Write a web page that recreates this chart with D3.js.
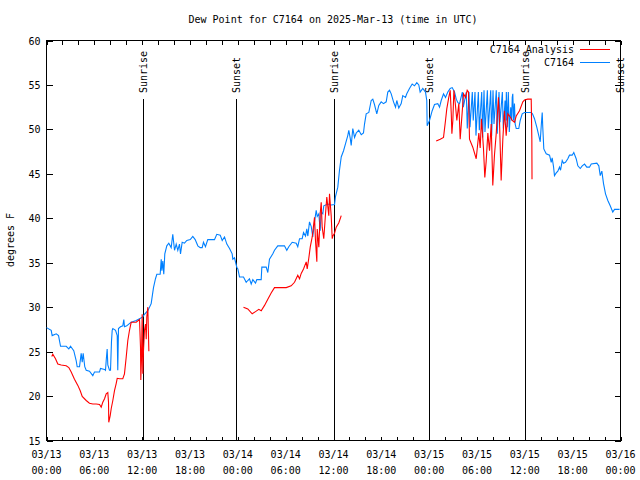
<!DOCTYPE html>
<html><head><meta charset="utf-8">
<script src="https://cdn.jsdelivr.net/npm/d3@7"></script>
<style>
body{margin:0;background:#fff;}
svg text{font-family:"DejaVu Sans Mono","Liberation Mono",monospace;font-size:10px;fill:#000;}
</style></head><body>
<svg id="chart" width="640" height="480"></svg>
<script>
// ---------- data ----------
const chartTitle = "Dew Point for C7164 on 2025-Mar-13 (time in UTC)";
const yAxisLabel = "degrees F";
const startUTC = Date.UTC(2025, 2, 13, 0, 0);
const endUTC = Date.UTC(2025, 2, 16, 0, 0);
const yTicks = [15, 20, 25, 30, 35, 40, 45, 50, 55, 60];
const xLabelHours = [0, 6, 12, 18, 24, 30, 36, 42, 48, 54, 60, 66, 72];
const seriesNames = ["C7164 Analysis", "C7164"];
const seriesColors = ["#ff0000", "#0080ff"];
const sunLabels = ["Sunrise", "Sunset", "Sunrise", "Sunset", "Sunrise", "Sunset"];
const sunHours = [12.10, 23.83, 36.12, 47.92, 60.08, 71.95];

// observed station (hours after 03/13 00:00 UTC, dew point F)
const stationSeries = [
[0,27.7],[0.59,27.4],[0.71,26.8],[1.22,27.0],[1.51,26.8],[1.76,25.6],[2.47,25.6],[2.80,25.3],[3.01,25.6],[3.42,25.1],
[3.72,24.0],[3.85,23.3],[4.14,23.3],[4.35,24.8],[4.48,23.8],[4.60,24.8],[4.80,23.3],[4.98,22.9],[5.39,22.8],[5.81,22.3],
[6.02,22.7],[6.65,22.7],[6.77,23.1],[7.28,23.0],[7.40,22.9],[7.49,24.0],[7.61,25.3],[7.69,23.5],[7.90,22.9],[8.03,22.9],
[8.15,26.1],[8.24,27.4],[8.32,27.6],[8.66,27.4],[8.87,26.8],[8.94,22.9],[9.03,27.6],[9.28,27.8],[9.57,27.9],[9.70,28.6],
[9.78,27.8],[10.07,27.9],[10.32,28.1],[10.62,28.3],[11.25,28.5],[11.67,28.7],[12.08,28.9],[12.29,29.2],[12.71,29.6],[13.13,30.4],
[13.42,32.2],[13.67,33.2],[13.84,33.7],[14.26,33.7],[14.39,35.4],[14.47,34.1],[14.59,35.2],[14.71,33.7],[14.84,36.0],[15.09,36.9],
[15.34,37.2],[15.64,36.7],[15.84,38.2],[16.06,36.4],[16.27,37.1],[16.47,36.4],[16.68,37.1],[16.81,36.0],[17.02,37.3],[17.31,37.2],
[17.60,37.5],[18.03,37.6],[18.35,37.95],[18.65,37.6],[18.98,36.9],[19.28,36.7],[19.53,36.7],[19.69,37.3],[19.94,36.8],[20.23,37.6],
[21.07,37.6],[21.36,38.2],[21.79,38.1],[22.04,37.5],[22.33,37.9],[22.62,37.1],[22.96,36.6],[23.29,36.0],[23.37,35.4],[23.58,35.55],
[23.87,34.5],[24.00,34.3],[24.21,33.4],[24.71,33.4],[25.05,32.8],[25.25,33.0],[25.46,33.2],[25.68,32.6],[25.88,33.1],[26.22,32.7],
[26.38,33.1],[26.93,33.1],[27.01,34.5],[27.56,34.5],[27.76,33.9],[27.97,35.4],[28.39,36.0],[28.60,36.4],[29.01,36.9],[29.85,36.9],
[30.14,36.4],[30.39,36.8],[30.82,37.3],[31.32,37.2],[31.52,36.8],[31.74,37.7],[32.07,37.7],[32.24,38.4],[32.49,38.0],[32.65,38.8],
[32.78,38.0],[32.99,39.6],[33.20,39.1],[33.40,37.9],[33.62,39.6],[33.83,40.9],[33.96,40.2],[34.16,40.5],[34.33,38.6],[34.46,40.7],
[34.66,40.5],[34.78,41.4],[35.29,41.6],[35.71,41.5],[36.13,41.55],[36.25,42.45],[36.54,43.5],[36.75,45.4],[36.97,46.9],[37.26,47.6],
[37.51,48.4],[37.79,49.3],[37.92,49.9],[38.10,49.0],[38.22,48.2],[38.42,50.1],[38.64,49.1],[38.85,49.6],[39.17,49.9],[39.48,49.4],
[39.76,49.6],[39.89,50.6],[40.10,51.75],[40.43,51.9],[40.73,53.25],[40.93,53.4],[41.14,52.8],[41.43,51.75],[41.68,52.7],[41.98,53.1],
[42.27,52.9],[42.61,53.1],[42.81,54.2],[43.03,54.4],[43.24,54.0],[43.53,53.1],[43.78,52.5],[43.94,53.25],[44.19,52.4],[44.49,52.9],
[44.69,53.8],[45.03,53.6],[45.19,54.0],[45.53,54.6],[45.87,55.1],[46.16,54.9],[46.45,55.25],[46.70,55.0],[46.87,54.2],[47.20,54.6],
[47.54,54.2],[47.70,53.25],[47.75,50.4],[48.04,51.0],[48.38,52.1],[48.67,52.8],[49.08,52.9],[49.30,52.5],[49.51,53.25],[49.80,54.0],
[50.05,53.6],[50.34,54.2],[50.64,54.6],[50.89,54.7],[51.18,54.2],[51.40,53.4],[51.60,53.0],[51.81,52.9],
[52.16,54.2],[52.28,52.5],[52.66,54.2],[52.78,50.1],[53.00,54.2],[53.12,50.25],[53.41,54.2],[53.53,51.0],[53.75,54.2],[53.87,49.3],
[54.17,54.2],[54.29,49.9],[54.59,54.2],[54.71,49.1],[54.88,54.4],[55.00,49.7],[55.30,54.4],[55.42,50.1],[55.72,54.4],[55.84,49.3],
[56.01,54.4],[56.13,50.6],[56.42,54.4],[56.54,49.5],[56.76,54.2],[56.88,50.8],[57.18,54.2],[57.30,50.1],[57.52,53.25],[57.64,51.0],
[57.68,54.2],[57.80,50.25],[57.93,54.2],[58.05,49.7],[58.23,52.5],[58.35,51.0],
[58.42,53.6],[58.49,54.0],[58.58,51.0],[58.70,52.9],[58.79,50.6],[58.92,50.1],[59.24,50.1],[59.42,51.0],[59.67,51.75],[59.96,51.9],
[60.80,51.9],[60.96,51.75],[61.21,51.2],[61.50,50.25],[61.75,49.3],[61.93,48.6],[62.05,50.3],[62.18,51.9],[62.25,50.25],[62.38,47.8],
[62.68,47.25],[63.10,47.1],[63.31,46.3],[63.43,46.8],[63.60,45.8],[63.72,44.8],[63.94,45.1],[64.14,45.3],[64.35,45.75],[64.48,45.4],
[64.69,46.5],[64.85,46.2],[65.10,46.3],[65.39,46.7],[65.60,47.1],[65.94,47.1],[66.14,47.4],[66.44,46.7],[66.65,45.9],[66.95,45.6],
[67.20,45.9],[67.49,46.1],[67.77,45.75],[68.11,45.75],[68.33,46.1],[69.03,46.2],[69.28,45.9],[69.46,44.8],[69.66,45.3],[69.87,43.9],
[70.12,42.75],[70.41,42.0],[70.71,41.4],[71.03,40.7],[71.25,41.0],[71.88,41.0]
];

// analysis (null = gap)
const analysisSeries = [
[0.66,24.45],[0.79,24.7],[1.13,24.2],[1.42,23.6],[1.84,23.5],[2.47,23.4],[2.80,23.2],[3.10,22.7],[3.51,21.9],[3.93,21.2],
[4.23,20.6],[4.48,19.95],[4.98,19.5],[5.39,19.2],[5.81,19.1],[6.23,19.1],[6.65,19.05],[6.86,18.75],[7.06,19.3],[7.28,19.7],
[7.49,20.25],[7.69,20.4],[7.78,19.3],[7.81,17.05],[7.99,17.8],[8.12,18.6],[8.32,19.5],[8.53,20.6],[8.74,21.4],[8.87,22.0],
[9.16,21.95],[9.57,21.95],[9.78,22.5],[10.0,24.4],[10.20,26.25],[10.41,27.4],[10.62,28.3],[11.25,28.3],[11.67,28.6],[11.79,25.5],
[11.83,21.8],[11.91,24.0],[12.00,29.2],[12.08,22.5],[12.16,25.0],[12.29,27.4],[12.42,28.1],[12.51,26.4],[12.58,28.9],[12.71,30.0],
[12.84,25.05],
[13.0,null],
[24.71,30.0],[25.25,29.8],[25.80,29.25],[26.22,29.5],[26.63,29.75],[26.93,29.6],[27.35,30.2],[27.76,30.9],[28.18,31.6],[28.60,32.2],
[30.07,32.2],[30.69,32.4],[31.11,32.8],[31.52,33.6],[31.74,33.2],[31.95,33.8],[32.24,34.3],[32.58,35.1],[32.70,34.3],[32.90,35.5],
[33.08,36.75],[33.33,37.9],[33.62,40.1],[33.74,37.5],[33.91,35.1],[33.96,38.8],[34.16,36.75],[34.33,40.5],[34.46,41.8],[34.58,39.0],
[34.78,37.7],[35.00,40.5],[35.16,42.4],[35.41,40.3],[35.50,42.75],[35.71,40.3],[35.84,37.7],[35.92,38.0],[36.13,38.3],[36.34,39.0],
[36.67,39.5],[36.97,40.3],
[37.2,null],
[48.88,48.7],[49.39,48.9],[49.80,49.1],[50.05,51.0],[50.21,52.3],[50.46,53.6],[50.64,54.4],[50.77,51.8],[50.85,49.5],[50.97,51.0],
[51.10,54.4],[51.31,52.6],[51.47,51.0],[51.72,52.9],[51.89,48.9],[52.14,51.9],[52.31,54.0],[52.56,53.6],[52.77,54.4],[52.93,54.2],
[53.06,48.9],[53.47,48.0],[53.90,46.7],[54.23,49.6],[54.40,47.9],[54.56,51.2],[54.81,47.9],[54.98,44.6],[55.15,46.4],[55.36,49.6],
[55.57,47.6],[55.78,50.6],[55.98,43.7],[56.19,47.1],[56.40,49.4],[56.69,53.6],[56.82,51.0],[57.03,44.25],[57.24,48.9],[57.45,52.1],
[57.66,49.3],[57.87,51.75],[58.17,51.4],[58.42,51.0],[58.70,50.8],[58.92,51.5],[59.33,52.1],[59.75,53.1],[59.96,53.3],[60.36,53.4],
[60.80,53.4],[60.88,48.9],[60.90,44.4]
];

// ---------- drawing ----------
const L = 46.5, R = 620.5, T = 40.5, B = 440.5;
const svg = d3.select("#chart");
const toDate = h => new Date(startUTC + h * 3600e3);

const x = d3.scaleUtc().domain([new Date(startUTC), new Date(endUTC)]).range([L, R]);
const y = d3.scaleLinear().domain([15, 60]).range([B, T]);

const fmtDay = d3.utcFormat("%m/%d");
const fmtTime = d3.utcFormat("%H:%M");

function styleAxis(g) {
  g.select(".domain").remove();
  g.selectAll("line").attr("stroke", "#000").attr("shape-rendering", "crispEdges");
  g.attr("font-family", null).attr("font-size", null);
}

// minor x ticks every 2 hours (bottom and top)
const twoHour = d3.utcHour.every(2).range(new Date(startUTC), new Date(endUTC + 1));
svg.append("g").attr("transform", `translate(0,${B})`)
  .call(d3.axisBottom(x).tickValues(twoHour).tickSizeInner(-4).tickSizeOuter(0).tickFormat(""))
  .call(styleAxis);
svg.append("g").attr("transform", `translate(0,${T})`)
  .call(d3.axisTop(x).tickValues(twoHour).tickSizeInner(-4).tickSizeOuter(0).tickFormat(""))
  .call(styleAxis);

// y ticks left (with labels) and right
svg.append("g").attr("transform", `translate(${L},0)`)
  .call(d3.axisLeft(y).tickValues(yTicks).tickSizeInner(-6).tickSizeOuter(0).tickPadding(6))
  .call(styleAxis)
  .selectAll("text").attr("dy", "0.35em");
svg.append("g").attr("transform", `translate(${R},0)`)
  .call(d3.axisRight(y).tickValues(yTicks).tickSizeInner(-6).tickSizeOuter(0).tickFormat(""))
  .call(styleAxis);

// x labels (two lines)
const xl = svg.append("g").selectAll("g").data(xLabelHours).join("g")
  .attr("transform", h => `translate(${x(toDate(h))},0)`);
xl.append("text").attr("y", 458).attr("text-anchor", "middle").text(h => fmtDay(toDate(h)));
xl.append("text").attr("y", 474).attr("text-anchor", "middle").text(h => fmtTime(toDate(h)));

// frame
svg.append("rect").attr("x", L).attr("y", T).attr("width", R - L).attr("height", B - T)
  .attr("fill", "none").attr("stroke", "#000").attr("shape-rendering", "crispEdges");

// sunrise / sunset lines
const sun = svg.append("g").selectAll("g").data(sunHours).join("g");
sun.append("line")
  .attr("x1", h => Math.round(x(toDate(h))) + 0.5).attr("x2", h => Math.round(x(toDate(h))) + 0.5)
  .attr("y1", 99).attr("y2", B)
  .attr("stroke", "#000").attr("shape-rendering", "crispEdges");
sun.append("text")
  .attr("transform", h => `translate(${Math.round(x(toDate(h))) + 0.5},93) rotate(-90)`)
  .attr("dy", "0.35em").attr("text-anchor", "start")
  .text((h, i) => sunLabels[i]);

// lines
const line = d3.line()
  .defined(d => d[1] !== null)
  .x(d => x(toDate(d[0])))
  .y(d => y(d[1]));

svg.append("path").datum(stationSeries)
  .attr("fill", "none").attr("stroke", seriesColors[1]).attr("stroke-width", 1.1)
  .attr("stroke-linejoin", "miter").attr("d", line);
svg.append("path").datum(analysisSeries)
  .attr("fill", "none").attr("stroke", seriesColors[0]).attr("stroke-width", 1.1)
  .attr("stroke-linejoin", "miter").attr("d", line);

// legend
const legendY = [49.5, 62.5];
const lg = svg.append("g").selectAll("g").data(seriesNames).join("g");
lg.append("text").attr("x", 574).attr("y", (d, i) => legendY[i]).attr("dy", "0.35em")
  .attr("text-anchor", "end").text(d => d);
lg.append("line").attr("x1", 580).attr("x2", 610)
  .attr("y1", (d, i) => legendY[i]).attr("y2", (d, i) => legendY[i])
  .attr("stroke", (d, i) => seriesColors[i]).attr("shape-rendering", "crispEdges");

// title and y label
svg.append("text").attr("x", 333).attr("y", 23).attr("text-anchor", "middle").text(chartTitle);
svg.append("text").attr("transform", "translate(14,240) rotate(-90)")
  .attr("text-anchor", "middle").text(yAxisLabel);
</script>
</body></html>
